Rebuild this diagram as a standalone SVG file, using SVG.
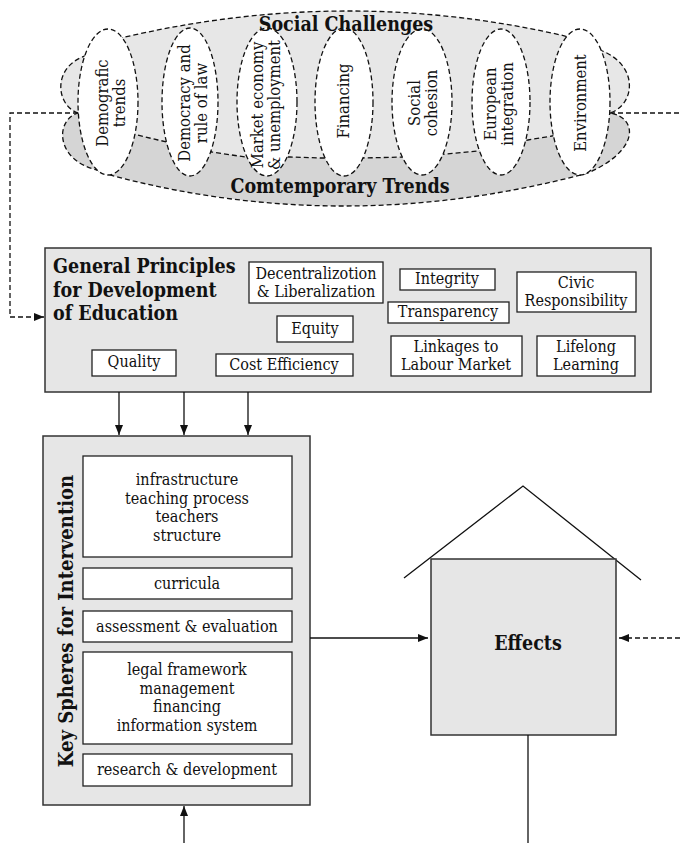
<svg xmlns="http://www.w3.org/2000/svg" width="680" height="843" viewBox="0 0 680 843">
  <style>
    .t { font-family: "DejaVu Serif", "Liberation Serif", serif; font-stretch: condensed; font-size: 16px; text-anchor: middle; fill: #111; }
    .v { font-size: 16.5px; }
    .b { font-weight: bold; font-size: 19.5px; }
    .l { text-anchor: start; }
    .panel { fill: #e6e6e6; stroke: #333; stroke-width: 1.5; }
    .box { fill: #fff; stroke: #222; stroke-width: 1.3; }
    .oval { fill: #fff; stroke: #111; stroke-width: 1.3; stroke-dasharray: 5 3; }
    .dash { fill: none; stroke: #111; stroke-width: 1.3; stroke-dasharray: 5 3; }
    .line { fill: none; stroke: #111; stroke-width: 1.3; }
  </style>
  <defs>
    <marker id="arrow" viewBox="0 0 10 8" refX="10" refY="4" markerWidth="10" markerHeight="8" markerUnits="userSpaceOnUse" orient="auto">
      <path d="M0,0 L10,4 L0,8 z" fill="#111"/>
    </marker>
    <clipPath id="cloudClip">
      <path id="cloudShape" d="M78,113 C55,105 52,65 88,55 L121,38 Q345,-15 565,36 L600,50 C640,65 635,105 610,113 C638,118 640,150 588,173 Q345,238 110,175 L97,170 C55,160 55,120 78,113 z"/>
    </clipPath>
  </defs>

  <!-- Social challenges / contemporary trends cloud -->
  <g id="cloud">
    <use href="#cloudShape" fill="#d5d5d5"/>
    <polygon clip-path="url(#cloudClip)" fill="#e7e7e7" points="30,0 660,0 660,113 610,113 552,136 528,140 477,151 447,154 403,157 363,158 320,158 290,157 245,157 212,152 158,140 137,135 78,113 30,113"/>
    <polyline class="dash" points="78,113 137,135 158,140 212,152 245,157 290,157 320,158 363,158 403,157 447,154 477,151 528,140 552,136 610,113"/>
    <use href="#cloudShape" class="dash"/>
  </g>

  <g id="challenge-demografic">
    <ellipse class="oval" cx="108" cy="102" rx="30" ry="73"/>
    <text class="t v" transform="translate(108,103) rotate(-90)"><tspan x="0" y="0">Demografic</tspan><tspan x="0" y="17">trends</tspan></text>
  </g>
  <g id="challenge-democracy">
    <ellipse class="oval" cx="190" cy="102" rx="28" ry="74"/>
    <text class="t v" transform="translate(190,103) rotate(-90)"><tspan x="0" y="0">Democracy and</tspan><tspan x="0" y="17">rule of law</tspan></text>
  </g>
  <g id="challenge-market">
    <ellipse class="oval" cx="267" cy="102" rx="30" ry="74"/>
    <text class="t v" transform="translate(263,105) rotate(-90)"><tspan x="0" y="0">Market economy</tspan><tspan x="0" y="17">&amp; unemployment</tspan></text>
  </g>
  <g id="challenge-financing">
    <ellipse class="oval" cx="344" cy="102" rx="29" ry="74"/>
    <text class="t v" transform="translate(349,101) rotate(-90)">Financing</text>
  </g>
  <g id="challenge-cohesion">
    <ellipse class="oval" cx="422" cy="102" rx="30" ry="73"/>
    <text class="t v" transform="translate(420,103) rotate(-90)"><tspan x="0" y="0">Social</tspan><tspan x="0" y="17">cohesion</tspan></text>
  </g>
  <g id="challenge-european">
    <ellipse class="oval" cx="501" cy="102" rx="29" ry="73"/>
    <text class="t v" transform="translate(496,104) rotate(-90)"><tspan x="0" y="0">European</tspan><tspan x="0" y="17">integration</tspan></text>
  </g>
  <g id="challenge-environment">
    <ellipse class="oval" cx="580" cy="102" rx="30" ry="73"/>
    <text class="t v" transform="translate(586,103) rotate(-90)">Environment</text>
  </g>

  <g id="cloud-titles">
    <text class="t b" x="346" y="31">Social Challenges</text>
    <text class="t b" x="340" y="193">Comtemporary Trends</text>
  </g>

  <!-- General principles panel -->
  <g id="principles">
    <rect class="panel" x="45" y="248" width="606" height="144"/>
    <text class="t b l" x="53" y="273"><tspan x="53" y="273">General Principles</tspan><tspan x="53" y="297">for Development</tspan><tspan x="53" y="320">of Education</tspan></text>
  </g>
  <g id="p-decentralization">
    <rect class="box" x="249" y="262" width="134" height="41"/>
    <text class="t" x="316" y="279"><tspan x="316" y="279">Decentralizotion</tspan><tspan x="316" y="297">&amp; Liberalization</tspan></text>
  </g>
  <g id="p-integrity">
    <rect class="box" x="400" y="269" width="95" height="21"/>
    <text class="t" x="447" y="284">Integrity</text>
  </g>
  <g id="p-transparency">
    <rect class="box" x="388" y="302" width="121" height="21"/>
    <text class="t" x="448" y="317">Transparency</text>
  </g>
  <g id="p-civic">
    <rect class="box" x="517" y="272" width="119" height="40"/>
    <text class="t" x="576" y="288"><tspan x="576" y="288">Civic</tspan><tspan x="576" y="306">Responsibility</tspan></text>
  </g>
  <g id="p-equity">
    <rect class="box" x="277" y="316" width="76" height="26"/>
    <text class="t" x="315" y="334">Equity</text>
  </g>
  <g id="p-quality">
    <rect class="box" x="92" y="350" width="84" height="26"/>
    <text class="t" x="134" y="367">Quality</text>
  </g>
  <g id="p-cost">
    <rect class="box" x="216" y="354" width="137" height="22"/>
    <text class="t" x="284" y="370">Cost Efficiency</text>
  </g>
  <g id="p-linkages">
    <rect class="box" x="391" y="336" width="131" height="40"/>
    <text class="t" x="456" y="352"><tspan x="456" y="352">Linkages to</tspan><tspan x="456" y="370">Labour Market</tspan></text>
  </g>
  <g id="p-lifelong">
    <rect class="box" x="537" y="336" width="98" height="40"/>
    <text class="t" x="586" y="352"><tspan x="586" y="352">Lifelong</tspan><tspan x="586" y="370">Learning</tspan></text>
  </g>

  <!-- Key spheres panel -->
  <g id="key-spheres">
    <rect class="panel" x="43" y="436" width="267" height="369"/>
    <text class="t b" transform="translate(73,621) rotate(-90)" style="font-size:20px">Key Spheres for Intervention</text>
  </g>
  <g id="k-infrastructure">
    <rect class="box" x="83" y="456" width="209" height="101"/>
    <text class="t" x="187" y="485"><tspan x="187" y="485">infrastructure</tspan><tspan x="187" y="503.5">teaching process</tspan><tspan x="187" y="522">teachers</tspan><tspan x="187" y="540.5">structure</tspan></text>
  </g>
  <g id="k-curricula">
    <rect class="box" x="83" y="568" width="209" height="31"/>
    <text class="t" x="187" y="589">curricula</text>
  </g>
  <g id="k-assessment">
    <rect class="box" x="83" y="611" width="209" height="31"/>
    <text class="t" x="187" y="632">assessment &amp; evaluation</text>
  </g>
  <g id="k-legal">
    <rect class="box" x="83" y="652" width="209" height="92"/>
    <text class="t" x="187" y="675"><tspan x="187" y="675">legal framework</tspan><tspan x="187" y="693.5">management</tspan><tspan x="187" y="712">financing</tspan><tspan x="187" y="730.5">information system</tspan></text>
  </g>
  <g id="k-research">
    <rect class="box" x="83" y="754" width="209" height="32"/>
    <text class="t" x="187" y="775">research &amp; development</text>
  </g>

  <!-- Effects house -->
  <g id="effects">
    <polyline class="line" points="404,578 523,486 641,580"/>
    <rect class="panel" x="431" y="559" width="185" height="176"/>
    <text class="t b" x="528" y="650">Effects</text>
  </g>

  <!-- Connectors -->
  <g id="connectors">
    <path class="dash" d="M78,113 H10 V317 H44" marker-end="url(#arrow)"/>
    <path class="dash" d="M610,113 H680"/>
    <line class="line" x1="119" y1="392" x2="119" y2="435" marker-end="url(#arrow)"/>
    <line class="line" x1="184" y1="392" x2="184" y2="435" marker-end="url(#arrow)"/>
    <line class="line" x1="248" y1="392" x2="248" y2="435" marker-end="url(#arrow)"/>
    <line class="line" x1="184" y1="843" x2="184" y2="806" marker-end="url(#arrow)"/>
    <line class="line" x1="310" y1="638" x2="428" y2="638" marker-end="url(#arrow)"/>
    <line class="dash" x1="680" y1="638" x2="619" y2="638" marker-end="url(#arrow)"/>
    <line class="line" x1="528" y1="735" x2="528" y2="843"/>
  </g>
</svg>
